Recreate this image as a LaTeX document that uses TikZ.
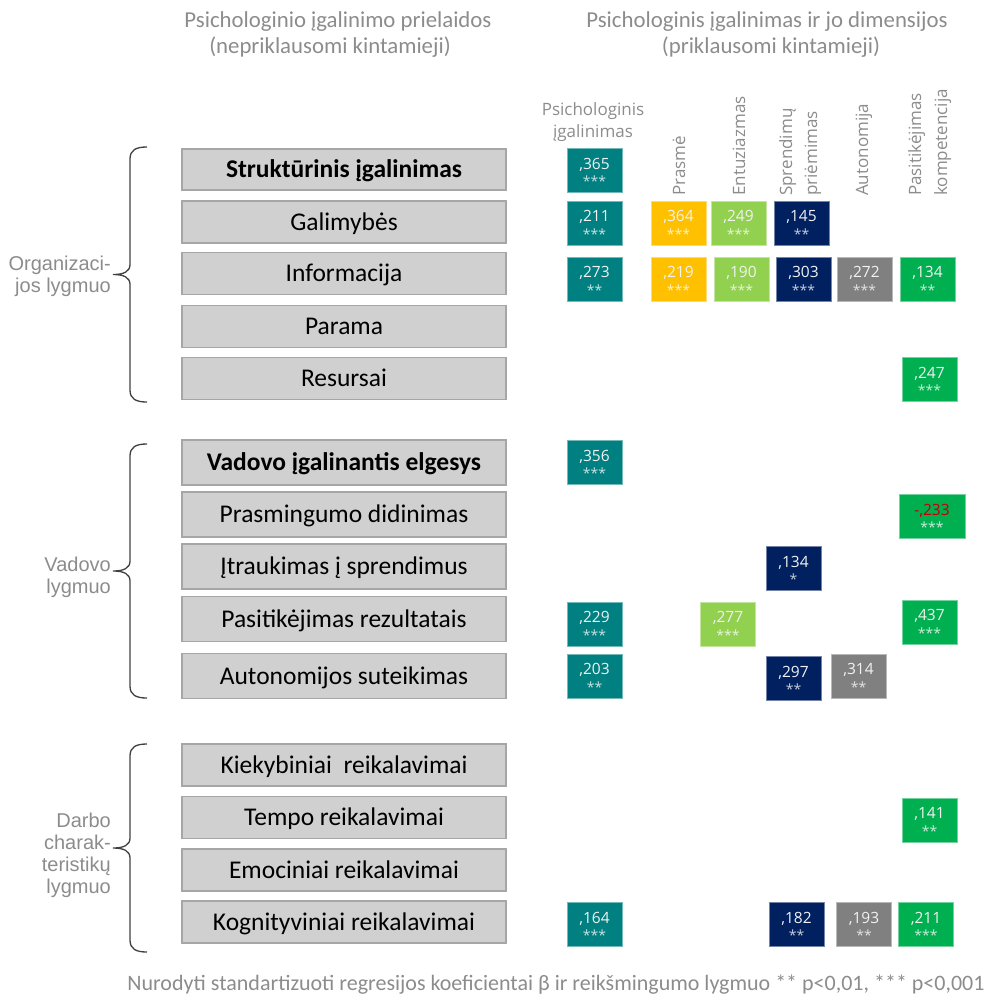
\documentclass[tikz,border=0pt]{standalone}
\usepackage{fontspec}
\setmainfont{Carlito}
\newfontfamily\osans{Open Sans}
\newfontfamily\lsans{Liberation Sans}
\definecolor{cTeal}{HTML}{008080}
\definecolor{cYel}{HTML}{FFC000}
\definecolor{cLGr}{HTML}{92D050}
\definecolor{cNavy}{HTML}{002060}
\definecolor{cGray}{HTML}{808080}
\definecolor{cGreen}{HTML}{00B050}
\definecolor{redv}{HTML}{C00000}
\definecolor{boxfill}{HTML}{D0D0D0}
\definecolor{boxedge}{HTML}{A6A6A6}
\definecolor{hdrgray}{HTML}{8C8C8C}
\definecolor{bracecol}{HTML}{404040}

% a coloured coefficient box: name, x, y, colour, value, stars, width
\newcommand\valbox[7]{%
  \node[cbox=#4, minimum width=#7pt] (#1) at (#2,#3) {};
  \node[valtext, anchor=base] (#1-v) at ([yshift=1.5pt]#1.center) {#5};
  \node[startext, text=white!78!#4, anchor=base] (#1-s) at ([yshift=-16pt]#1.center) {#6};
}

\begin{document}
\begin{tikzpicture}[x=1pt, y=-1pt,
  lbox/.style={draw=boxedge, fill=boxfill, line width=1.2pt, minimum width=324pt,
    inner sep=0pt, text height=16.4pt, text depth=0pt, text=black,
    font=\fontsize{25.5}{29}\selectfont},
  cbox/.style={fill=#1, draw=#1!55!white, line width=0.6pt, minimum height=44pt, inner sep=0pt},
  valtext/.style={inner sep=0pt, text=white!95!black, font=\osans\fontsize{15.5}{17}\selectfont},
  startext/.style={inner sep=0pt, font=\osans\fontsize{14}{14}\selectfont},
  hdr/.style={inner sep=0pt, text=hdrgray, font=\fontsize{22.8}{26}\selectfont},
  colhdr/.style={inner sep=0pt, text=hdrgray, font=\osans\fontsize{17}{20}\selectfont},
  grp/.style={inner sep=0pt, align=right, text=hdrgray, font=\lsans\fontsize{20}{22}\selectfont},
  brace/.style={draw=bracecol, line width=1.3pt}
]
\useasboundingbox (0,0) rectangle (990,996);

% ---- headings ----
\node[hdr, anchor=base] (h1a) at (338,27) {Psichologinio įgalinimo prielaidos};
\node[hdr, anchor=base] (h1b) at (330,53) {(nepriklausomi kintamieji)};
\node[hdr, anchor=base] (h2a) at (767,27) {Psichologinis įgalinimas ir jo dimensijos};
\node[hdr, anchor=base] (h2b) at (771,53) {(priklausomi kintamieji)};

% ---- column headings ----
\node[colhdr, anchor=base] (cPa) at (593,115) {Psichologinis};
\node[colhdr, anchor=base] (cPb) at (593,137) {įgalinimas};
\node[colhdr, rotate=90, anchor=base west] (cPr) at (685,196) {Prasmė};
\node[colhdr, rotate=90, anchor=base west] (cEn) at (745,196) {Entuziazmas};
\node[colhdr, rotate=90, anchor=base west] (cSa) at (792,196) {Sprendimų};
\node[colhdr, rotate=90, anchor=base west] (cSb) at (817,196) {priėmimas};
\node[colhdr, rotate=90, anchor=base west] (cAu) at (868,196) {Autonomija};
\node[colhdr, rotate=90, anchor=base west] (cKa) at (921,196) {Pasitikėjimas};
\node[colhdr, rotate=90, anchor=base west] (cKb) at (947,196) {kompetencija};

% ---- predictor boxes ----
\node[lbox, minimum height=41pt] (r1) at (344,169.5) {\textbf{Struktūrinis įgalinimas}};
\node[lbox, minimum height=42pt] (r2) at (344,222) {Galimybės};
\node[lbox, minimum height=42pt] (r3) at (344,273.5) {Informacija};
\node[lbox, minimum height=42pt] (r4) at (344,326.5) {Parama};
\node[lbox, minimum height=42pt] (r5) at (344,378.5) {Resursai};

\node[lbox, minimum height=45pt] (r6) at (344,462.5) {\textbf{Vadovo įgalinantis elgesys}};
\node[lbox, minimum height=45pt] (r7) at (344,514.5) {Prasmingumo didinimas};
\node[lbox, minimum height=45pt] (r8) at (344,566.5) {Įtraukimas į sprendimus};
\node[lbox, minimum height=45pt] (r9) at (344,619) {Pasitikėjimas rezultatais};
\node[lbox, minimum height=45pt] (r10) at (344,676) {Autonomijos suteikimas};

\node[lbox, minimum height=42pt] (r11) at (344,765) {Kiekybiniai\ \ reikalavimai};
\node[lbox, minimum height=42pt] (r12) at (344,817.5) {Tempo reikalavimai};
\node[lbox, minimum height=42pt] (r13) at (344,870) {Emociniai reikalavimai};
\node[lbox, minimum height=42pt] (r14) at (344,922) {Kognityviniai reikalavimai};

% ---- level braces ----
\foreach \t/\b in {147/402, 444/698, 744/952}{
  \pgfmathsetmacro\m{(\t+\b)/2}
  \draw[brace] (147,\t) .. controls (136,\t) and (130,\t+3) .. (130,\t+12)
    -- (130,\m-10) .. controls (130,\m-3) and (124,\m) .. (113,\m)
    .. controls (124,\m) and (130,\m+3) .. (130,\m+10)
    -- (130,\b-12) .. controls (130,\b-3) and (136,\b) .. (147,\b);
}
\node[grp, anchor=east] (gOrg) at (111,276) {Organizaci-\\jos lygmuo};
\node[grp, anchor=east] (gVad) at (111,577) {Vadovo\\lygmuo};
\node[grp, anchor=east] (gDar) at (111,855) {Darbo\\charak-\\teristikų\\lygmuo};

% ---- coefficients ----
\valbox{a1}{594.5}{170.5}{cTeal}{,365}{***}{55}
\valbox{a2}{594.5}{223}{cTeal}{,211}{***}{55}
\valbox{a3}{594.5}{279}{cTeal}{,273}{**}{55}
\valbox{b2}{678.5}{223}{cYel}{,364}{***}{55}
\valbox{c2}{738.5}{223}{cLGr}{,249}{***}{55}
\valbox{d2}{801.5}{223}{cNavy}{,145}{**}{55}
\valbox{b3}{678.5}{279}{cYel}{,219}{***}{55}
\valbox{c3}{741.5}{279}{cLGr}{,190}{***}{55}
\valbox{d3}{803.5}{279}{cNavy}{,303}{***}{55}
\valbox{e3}{864.5}{279}{cGray}{,272}{***}{55}
\valbox{f3}{927.5}{279}{cGreen}{,134}{**}{55}
\valbox{f5}{929.5}{379.5}{cGreen}{,247}{***}{55}

\valbox{a6}{594.5}{462.5}{cTeal}{,356}{***}{55}
\valbox{f7}{932}{516.5}{cGreen}{\color{redv}-,233}{***}{66}
\valbox{d8}{793.5}{568.5}{cNavy}{,134}{*}{55}
\valbox{a9}{594.5}{624}{cTeal}{,229}{***}{55}
\valbox{c9}{728}{624}{cLGr}{,277}{***}{55}
\valbox{f9}{929.5}{622}{cGreen}{,437}{***}{55}
\valbox{a10}{594.5}{676}{cTeal}{,203}{**}{55}
\valbox{d10}{793.5}{678.5}{cNavy}{,297}{**}{55}
\valbox{e10}{858.5}{676}{cGray}{,314}{**}{55}

\valbox{f12}{929.5}{820}{cGreen}{,141}{**}{55}
\valbox{a14}{594.5}{924.5}{cTeal}{,164}{***}{55}
\valbox{d14}{796.5}{924.5}{cNavy}{,182}{**}{55}
\valbox{e14}{864}{924.5}{cGray}{,193}{**}{55}
\valbox{f14}{926}{924.5}{cGreen}{,211}{***}{55}

% ---- note ----
\node[hdr, anchor=base, font=\fontsize{22}{24}\selectfont] (note) at (556,990)
  {Nurodyti standartizuoti regresijos koeficientai β ir reikšmingumo lygmuo ** p<0,01, *** p<0,001};
\end{tikzpicture}
\end{document}
